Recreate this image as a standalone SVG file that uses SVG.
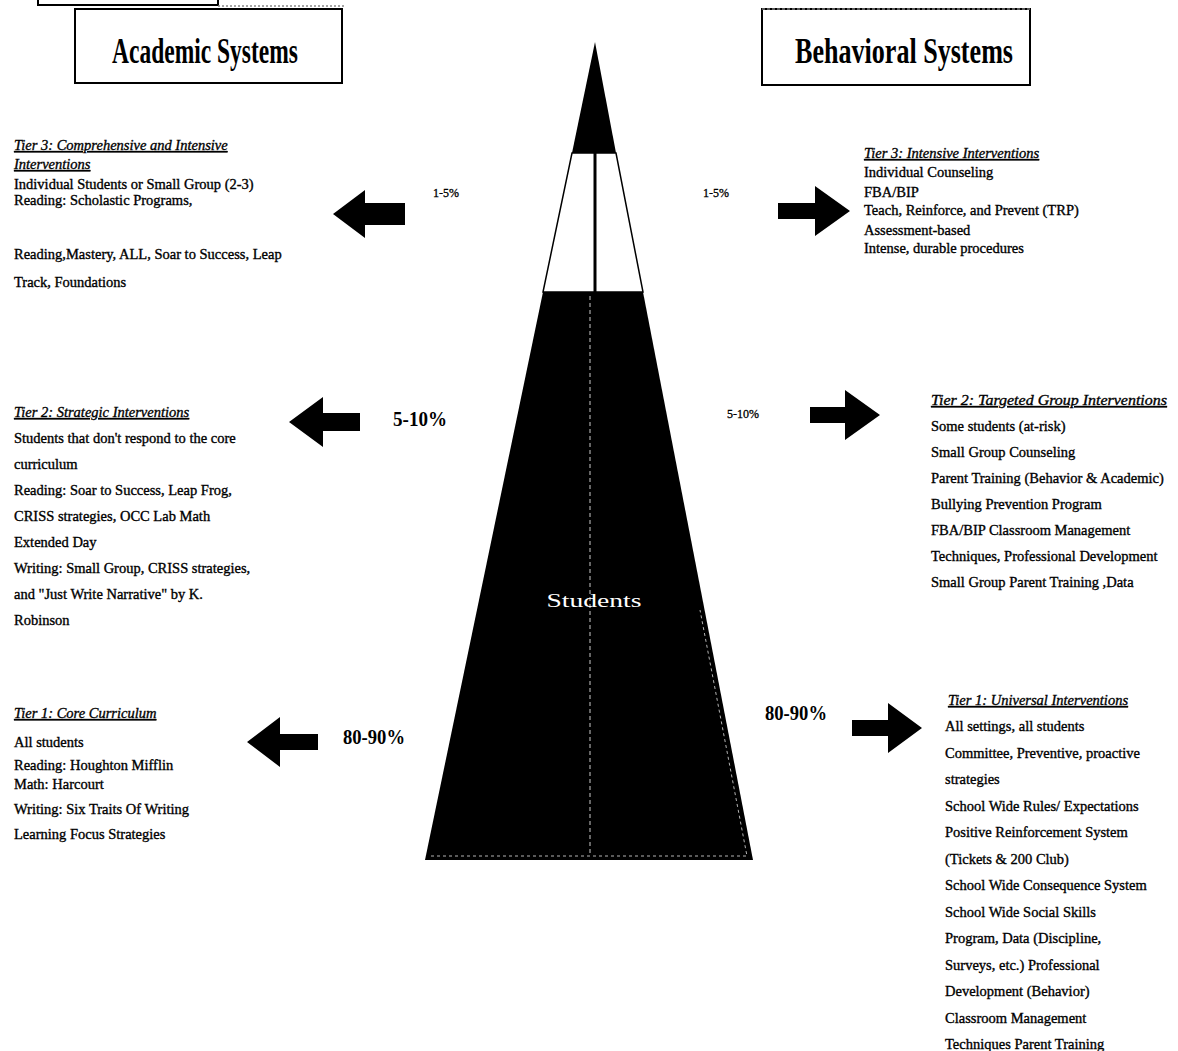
<svg xmlns="http://www.w3.org/2000/svg" width="1178" height="1051" viewBox="0 0 1178 1051">
<style>
.t{font-family:"Liberation Serif","Times New Roman",serif;font-size:14.5px;fill:#000;stroke:#000;stroke-width:0.35}
.h{font-style:italic;text-decoration:underline}
.title{font-family:"Liberation Serif","Times New Roman",serif;font-size:36px;font-weight:bold;fill:#000}
.pbig{font-family:"Liberation Serif","Times New Roman",serif;font-size:21px;font-weight:bold;fill:#000}
.psm{font-family:"Liberation Serif","Times New Roman",serif;font-size:12px;fill:#000;stroke:#000;stroke-width:0.3}
.box{fill:#fff;stroke:#000;stroke-width:2}
.arrow{fill:#000}
</style>
<rect width="1178" height="1051" fill="#fff"/>
<g id="fragment">
<path d="M38,0 V5 H218 V0" fill="none" stroke="#000" stroke-width="2"/>
<line x1="218" y1="6" x2="345" y2="6" stroke="#888" stroke-width="1.5" stroke-dasharray="2,2"/>
</g>
<g id="academic-systems">
<rect class="box" x="75" y="9" width="267" height="74"/>
<text class="title" x="112" y="63" textLength="186" lengthAdjust="spacingAndGlyphs">Academic Systems</text>
</g>
<g id="behavioral-systems">
<rect class="box" x="762" y="9" width="268" height="76"/>
<line x1="762" y1="9" x2="1030" y2="9" stroke="#777" stroke-width="1.5" stroke-dasharray="3,2"/>
<text class="title" x="795" y="63" textLength="218" lengthAdjust="spacingAndGlyphs">Behavioral Systems</text>
</g>
<g id="pyramid">
<polygon points="595,42 616,153 572,153" fill="#000"/>
<polygon points="572,153 616,153 643,292 543,292" fill="#fff" stroke="#000" stroke-width="1.5"/>
<line x1="595" y1="153" x2="595" y2="292" stroke="#000" stroke-width="3"/>
<polygon points="543,292 643,292 753,860 425,860" fill="#000"/>
<line x1="590" y1="296" x2="590" y2="856" stroke="#fff" stroke-width="1" stroke-dasharray="4,3" opacity="0.8"/>
<path d="M431,856 H747 L700,610" fill="none" stroke="#fff" stroke-width="1" stroke-dasharray="3,3" opacity="0.7"/>
<text x="594" y="607" text-anchor="middle" font-family="Liberation Serif, serif" font-size="18" fill="#fff" textLength="95" lengthAdjust="spacingAndGlyphs">Students</text>
</g>
<g id="connectors">
<path class="arrow" d="M333,214 L365,190 L365,203 L405,203 L405,225 L365,225 L365,238 Z"/>
<path class="arrow" d="M850,211 L815,186 L815,203 L778,203 L778,219 L815,219 L815,236 Z"/>
<path class="arrow" d="M289,422 L323,397 L323,413 L360,413 L360,431 L323,431 L323,447 Z"/>
<path class="arrow" d="M880,415 L845,390 L845,407 L810,407 L810,423 L845,423 L845,440 Z"/>
<path class="arrow" d="M247,742 L280,717 L280,734 L318,734 L318,750 L280,750 L280,767 Z"/>
<path class="arrow" d="M922,728 L888,703 L888,720 L852,720 L852,736 L888,736 L888,753 Z"/>
</g>
<g id="percent-labels">
<text class="psm" x="433" y="197">1-5%</text>
<text class="psm" x="703" y="197">1-5%</text>
<text class="pbig" x="393" y="426" textLength="54" lengthAdjust="spacingAndGlyphs">5-10%</text>
<text class="psm" x="727" y="418">5-10%</text>
<text class="pbig" x="343" y="744" textLength="62" lengthAdjust="spacingAndGlyphs">80-90%</text>
<text class="pbig" x="765" y="720" textLength="62" lengthAdjust="spacingAndGlyphs">80-90%</text>
</g>
<g id="tier3-academic">
<text class="t h" x="14" y="150">Tier 3: Comprehensive and Intensive</text>
<text class="t h" x="14" y="169">Interventions</text>
<text class="t" x="14" y="189">Individual Students or Small Group (2-3)</text>
<text class="t" x="14" y="205">Reading: Scholastic Programs,</text>
<text class="t" x="14" y="259">Reading,Mastery, ALL, Soar to Success, Leap</text>
<text class="t" x="14" y="287">Track, Foundations</text>
</g>
<g id="tier3-behavioral">
<text class="t h" x="864" y="158">Tier 3: Intensive Interventions</text>
<text class="t" x="864" y="177">Individual Counseling</text>
<text class="t" x="864" y="197">FBA/BIP</text>
<text class="t" x="864" y="215">Teach, Reinforce, and Prevent (TRP)</text>
<text class="t" x="864" y="235">Assessment-based</text>
<text class="t" x="864" y="253">Intense, durable procedures</text>
</g>
<g id="tier2-academic">
<text class="t h" x="14" y="417">Tier 2: Strategic Interventions</text>
<text class="t" x="14" y="443">Students that don't respond to the core</text>
<text class="t" x="14" y="469">curriculum</text>
<text class="t" x="14" y="495">Reading: Soar to Success, Leap Frog,</text>
<text class="t" x="14" y="521">CRISS strategies, OCC Lab Math</text>
<text class="t" x="14" y="547">Extended Day</text>
<text class="t" x="14" y="573">Writing: Small Group, CRISS strategies,</text>
<text class="t" x="14" y="599">and "Just Write Narrative" by K.</text>
<text class="t" x="14" y="625">Robinson</text>
</g>
<g id="tier2-behavioral">
<text class="t h" x="931" y="405" textLength="236" lengthAdjust="spacingAndGlyphs"> Tier 2: Targeted Group Interventions</text>
<text class="t" x="931" y="431">Some students (at-risk)</text>
<text class="t" x="931" y="457">Small Group Counseling</text>
<text class="t" x="931" y="483">Parent Training (Behavior &amp; Academic)</text>
<text class="t" x="931" y="509">Bullying Prevention Program</text>
<text class="t" x="931" y="535">FBA/BIP Classroom Management</text>
<text class="t" x="931" y="561">Techniques, Professional Development</text>
<text class="t" x="931" y="587"> Small Group Parent Training ,Data</text>
</g>
<g id="tier1-academic">
<text class="t h" x="14" y="718">Tier 1: Core Curriculum</text>
<text class="t" x="14" y="747">All students</text>
<text class="t" x="14" y="770">Reading: Houghton Mifflin</text>
<text class="t" x="14" y="789">Math: Harcourt</text>
<text class="t" x="14" y="814">Writing: Six Traits Of Writing</text>
<text class="t" x="14" y="839">Learning Focus Strategies</text>
</g>
<g id="tier1-behavioral">
<text class="t h" x="948" y="705">Tier 1: Universal Interventions</text>
<text class="t" x="945" y="731">All settings, all students</text>
<text class="t" x="945" y="758">Committee, Preventive, proactive</text>
<text class="t" x="945" y="784">strategies</text>
<text class="t" x="945" y="811">School Wide Rules/ Expectations</text>
<text class="t" x="945" y="837">Positive Reinforcement System</text>
<text class="t" x="945" y="864">(Tickets &amp; 200 Club)</text>
<text class="t" x="945" y="890">School Wide Consequence System</text>
<text class="t" x="945" y="917">School Wide Social Skills</text>
<text class="t" x="945" y="943">Program, Data (Discipline,</text>
<text class="t" x="945" y="970">Surveys, etc.) Professional</text>
<text class="t" x="945" y="996">Development (Behavior)</text>
<text class="t" x="945" y="1023">Classroom Management</text>
<text class="t" x="945" y="1049">Techniques Parent Training</text>
</g>
</svg>
